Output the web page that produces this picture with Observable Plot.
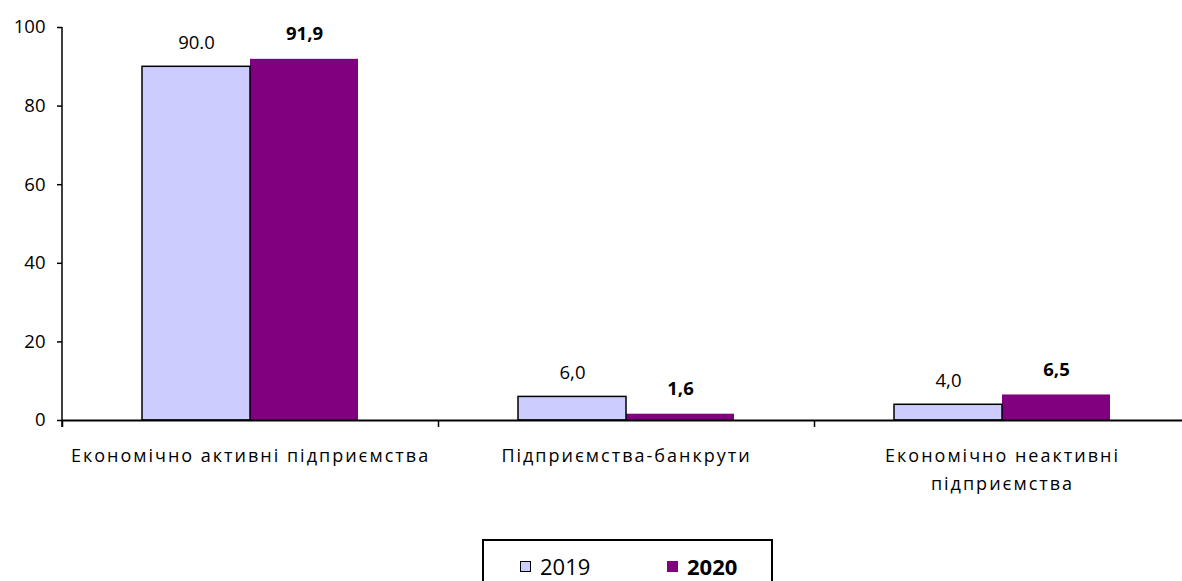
<!DOCTYPE html>
<html>
<head>
<meta charset="utf-8">
<script src="https://cdn.jsdelivr.net/npm/d3@7"></script>
<script src="https://cdn.jsdelivr.net/npm/@observablehq/plot@0.6"></script>
<style>
  html, body { margin: 0; padding: 0; background: white; overflow: hidden; }
  #wrap { position: relative; width: 1182px; height: 581px; font-family: "Open Sans", sans-serif; }
  #legend { position: absolute; left: 482px; top: 539px; width: 291px; height: 60px; border: 2px solid black; box-sizing: border-box; }
  .item { position: absolute; top: 12px; display: flex; align-items: center; font-size: 22px; line-height: 26px; }
  .sw { width: 11px; height: 11px; box-sizing: border-box; margin-right: 9px; }
</style>
</head>
<body>
<div id="wrap">
  <div id="chart"></div>
  <div id="legend"></div>
</div>
<script>
const categories = ["Економічно активні підприємства", "Підприємства-банкрути", "Економічно неактивні підприємства"];
const categoryLabels = ["Економічно активні підприємства", "Підприємства-банкрути", "Економічно неактивні\nпідприємства"];
const years = ["2019", "2020"];
const values2019 = [90.0, 6.0, 4.0];
const values2020 = [91.9, 1.6, 6.5];
const labels2019 = ["90.0", "6,0", "4,0"];
const labels2020 = ["91,9", "1,6", "6,5"];
const yTicks = [0, 20, 40, 60, 80, 100];
const colors = ["#CCCCFF", "#800080"];

const rows2019 = categories.map((c, i) => ({cat: c, year: years[0], value: values2019[i], label: labels2019[i]}));
const rows2020 = categories.map((c, i) => ({cat: c, year: years[1], value: values2020[i], label: labels2020[i]}));

const chart = Plot.plot({
  width: 1182,
  height: 500,
  marginLeft: 62,
  marginRight: -8,
  marginTop: 27,
  marginBottom: 80,
  style: {fontFamily: "Open Sans", fontSize: "18px", color: "black", overflow: "visible", background: "white"},
  fx: {domain: categories, padding: 0},
  x: {domain: years, paddingInner: 0, paddingOuter: 0.74, axis: null},
  y: {domain: [0, 100]},
  marks: [
    Plot.barY(rows2020, {fx: "cat", x: "year", y: "value", fill: colors[1]}),
    Plot.barY(rows2019, {fx: "cat", x: "year", y: "value", fill: colors[0], stroke: "black", strokeWidth: 1.5}),
    Plot.ruleY([0], {stroke: "black", strokeWidth: 2}),
    Plot.axisY({ticks: yTicks, tickSize: 5, tickPadding: 12, label: null, strokeWidth: 1.5, fontSize: 18.5}),
    Plot.axisFx({anchor: "bottom", tickSize: 7, tickFormat: () => "", dx: -188, label: null, strokeWidth: 1.5}),
    Plot.axisFx({anchor: "bottom", tickSize: 0, tickPadding: 22, tickFormat: d => categoryLabels[categories.indexOf(d)], lineHeight: 1.55, label: null, fontSize: 18}),
    Plot.text(rows2019, {fx: "cat", x: "year", y: "value", text: "label", dy: -24, fontSize: 18.5}),
    Plot.text(rows2020, {fx: "cat", x: "year", y: "value", text: "label", dy: -25, fontSize: 18.5, fontWeight: "bold"})
  ]
});
document.getElementById("chart").appendChild(chart);
d3.select(chart).selectAll('g[aria-label="fx-axis tick label"] text').style("letter-spacing", "2px");

// y-axis line, placed with the chart's own scales
const ys = chart.scale("y");
const fxs = chart.scale("fx");
const x0 = fxs.apply(categories[0]);
d3.select(chart).append("line")
  .attr("x1", x0).attr("x2", x0)
  .attr("y1", ys.apply(100)).attr("y2", ys.apply(0) + 7)
  .attr("stroke", "black").attr("stroke-width", 1.5);

const legend = document.getElementById("legend");
const pos = [36, 183];
years.forEach((y, i) => {
  const it = document.createElement("div");
  it.className = "item";
  it.style.left = pos[i] + "px";
  const sw = document.createElement("div");
  sw.className = "sw";
  sw.style.background = colors[i];
  if (i === 0) sw.style.border = "1.5px solid black";
  const t = document.createElement("span");
  t.textContent = y;
  if (i === 1) t.style.fontWeight = "bold";
  it.appendChild(sw);
  it.appendChild(t);
  legend.appendChild(it);
});
</script>
</body>
</html>
